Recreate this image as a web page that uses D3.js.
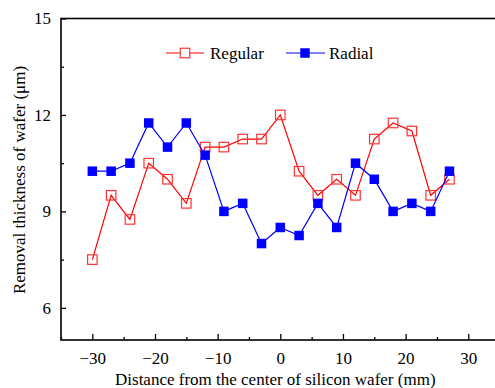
<!DOCTYPE html>
<html><head><meta charset="utf-8">
<script src="https://cdn.jsdelivr.net/npm/d3@7"></script>
<style>body{margin:0;background:#fff}svg{display:block}text{font-family:"Liberation Serif","Times New Roman",serif}</style>
</head><body><svg id="c" width="495" height="388"></svg>
<script>
const positions = [-30,-27,-24,-21,-18,-15,-12,-9,-6,-3,0,3,6,9,12,15,18,21,24,27];
const regular = [7.5,9.5,8.75,10.5,10,9.25,11,11,11.25,11.25,12,10.25,9.5,10,9.5,11.25,11.75,11.5,9.5,10];
const radial = [10.25,10.25,10.5,11.75,11,11.75,10.75,9,9.25,8,8.5,8.25,9.25,8.5,10.5,10,9,9.25,9,10.25];
const xTicks = [-30,-20,-10,0,10,20,30];
const yTicks = [6,9,12,15];
const seriesNames = ["Regular","Radial"];

const svg = d3.select("#c");
const x = d3.scaleLinear().domain([-35,35]).range([61,499.6]);
const y = d3.scaleLinear().domain([5,15]).range([340,18.5]);

// frame
svg.append("rect").attr("x",x(-35)).attr("y",y(15)).attr("width",x(35)-x(-35)).attr("height",y(5)-y(15))
  .attr("fill","none").attr("stroke","#000").attr("stroke-width",1.6);

// x axis
const xMinor = d3.range(-35,36,5).filter(v=>v%10!==0);
const gx = svg.append("g").attr("transform",`translate(0,${y(5)})`);
gx.call(d3.axisBottom(x).tickValues(xTicks).tickSizeInner(-6).tickSizeOuter(0).tickPadding(12).tickFormat(d3.format("d")));
gx.append("g").call(d3.axisBottom(x).tickValues(xMinor).tickSizeInner(-3).tickSizeOuter(0).tickFormat(""));
// y axis
const yMinor = [7.5,10.5,13.5];
const gy = svg.append("g").attr("transform",`translate(${x(-35)},0)`);
gy.call(d3.axisLeft(y).tickValues(yTicks).tickSizeInner(-5).tickSizeOuter(0).tickPadding(10));
gy.append("g").call(d3.axisLeft(y).tickValues(yMinor).tickSizeInner(-3).tickSizeOuter(0).tickFormat(""));
svg.selectAll(".domain").remove();
svg.selectAll("g").attr("font-family",null);
svg.selectAll(".tick line").attr("stroke","#000").attr("stroke-width",1.3);
svg.selectAll(".tick text").attr("font-size",17).attr("fill","#000");
gx.selectAll(".tick text").attr("dy","0.71em");

// titles
svg.append("text").attr("x",x(0)-5).attr("y",385).attr("text-anchor","middle").attr("font-size",17)
  .text("Distance from the center of silicon wafer (mm)");
svg.append("text").attr("transform",`translate(25,180) rotate(-90)`).attr("text-anchor","middle").attr("font-size",17)
  .text("Removal thickness of wafer (\u03bcm)");

const line = d3.line().x((d,i)=>x(positions[i])).y(d=>y(d));
const ms = 9.5;
// regular
svg.append("path").datum(regular).attr("d",line).attr("fill","none").attr("stroke","#ff0000").attr("stroke-width",1.2);
svg.append("g").selectAll("rect").data(regular).join("rect")
  .attr("x",(d,i)=>x(positions[i])-ms/2).attr("y",d=>y(d)-ms/2).attr("width",ms).attr("height",ms)
  .attr("fill","none").attr("stroke","#ff3333").attr("stroke-width",1.2);
// radial
svg.append("path").datum(radial).attr("d",line).attr("fill","none").attr("stroke","#0000ff").attr("stroke-width",1.2);
svg.append("g").selectAll("rect").data(radial).join("rect")
  .attr("x",(d,i)=>x(positions[i])-ms/2).attr("y",d=>y(d)-ms/2).attr("width",ms).attr("height",ms)
  .attr("fill","#0000ff");

// legend
const leg = svg.append("g");
const ly = 53;
leg.append("line").attr("x1",166).attr("x2",204).attr("y1",ly).attr("y2",ly).attr("stroke","#ff0000").attr("stroke-width",1.2);
leg.append("rect").attr("x",185-ms/2).attr("y",ly-ms/2).attr("width",ms).attr("height",ms).attr("fill","#fff").attr("stroke","#ff3333").attr("stroke-width",1.2);
leg.append("text").attr("x",210).attr("y",ly+6).attr("font-size",17).text(seriesNames[0]);
leg.append("line").attr("x1",286).attr("x2",325).attr("y1",ly).attr("y2",ly).attr("stroke","#0000ff").attr("stroke-width",1.2);
leg.append("rect").attr("x",305-ms/2).attr("y",ly-ms/2).attr("width",ms).attr("height",ms).attr("fill","#0000ff");
leg.append("text").attr("x",329).attr("y",ly+6).attr("font-size",17).text(seriesNames[1]);
</script></body></html>
